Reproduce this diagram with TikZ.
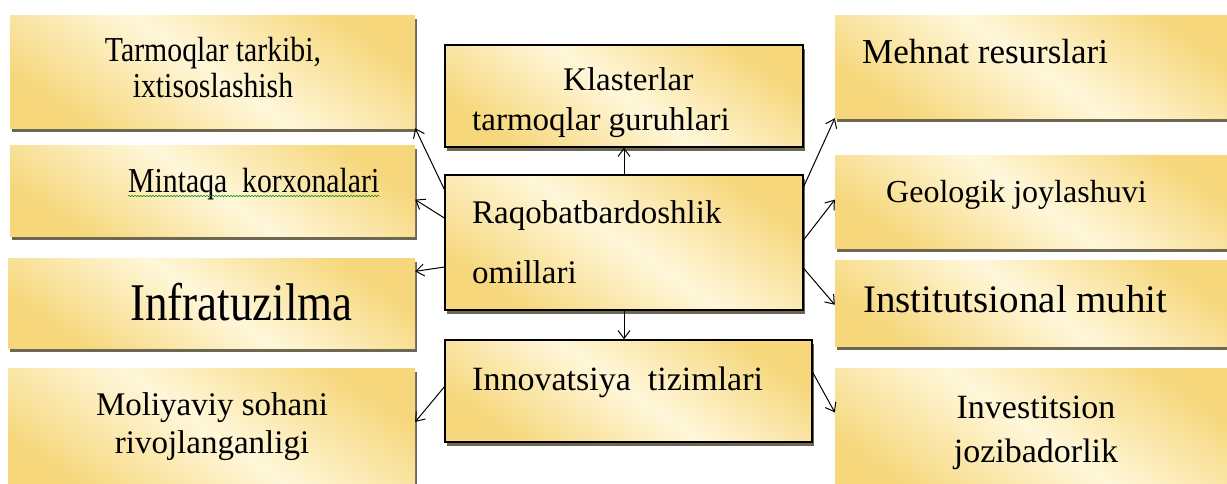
\documentclass[tikz,border=0pt]{standalone}
\usepackage{fontspec}
\setmainfont{Liberation Serif}
\newfontfamily\narrowfont{Liberation Serif}[FakeStretch=0.85]
\usetikzlibrary{arrows.meta,calc,shadows,decorations.pathmorphing}
\definecolor{boxgold}{HTML}{F6D77C}
\definecolor{boxcream}{HTML}{FFF7DA}
\definecolor{boxshade}{HTML}{4A4228}

\begin{document}
\begin{tikzpicture}[x=1pt,y=-1pt,
    factor/.style={rectangle, inner sep=0pt, top color=boxgold, bottom color=boxgold,
      middle color=boxcream, shading angle=-35,
      drop shadow={shadow xshift=2pt, shadow yshift=-4pt, fill=boxshade, opacity=0.8}},
    core/.style={factor, draw=black, line width=1.4pt},
    txt/.style={inner sep=0pt, text=black},
    link/.style={-{Straight Barb[length=8pt,width=12pt]}, line width=1pt}]
   \useasboundingbox (0,0) rectangle (1227,483);
   \node[factor, minimum width=405pt, minimum height=113pt] (tarmoq) at (212.5,71.5) {};
   \node[factor, minimum width=405pt, minimum height=91pt] (mintaqa) at (212.5,190.5) {};
   \node[factor, minimum width=407pt, minimum height=90pt] (infra) at (211.5,303) {};
   \node[factor, minimum width=407pt, minimum height=127pt] (moliya) at (211.5,431.5) {};
   \node[core, minimum width=358pt, minimum height=102pt] (klaster) at (624,96) {};
   \node[core, minimum width=358pt, minimum height=135pt] (raq) at (624,242.5) {};
   \node[core, minimum width=367pt, minimum height=102pt] (innov) at (628.5,391) {};
   \node[factor, minimum width=400pt, minimum height=103pt] (mehnat) at (1035,66.5) {};
   \node[factor, minimum width=400pt, minimum height=93pt] (geolog) at (1035,201.5) {};
   \node[factor, minimum width=400pt, minimum height=86pt] (instit) at (1035,303) {};
   \node[factor, minimum width=400pt, minimum height=127pt] (invest) at (1035,431.5) {};

   \node[txt, anchor=base, align=center, font=\narrowfont\fontsize{35}{36}\selectfont]
      (tarmoqT) at (213,97) {Tarmoqlar tarkibi,\\ixtisoslashish};
   \node[txt, anchor=base west, font=\narrowfont\fontsize{35}{36}\selectfont]
      (mintaqaT) at (128,192) {Mintaqa\ \ korxonalari};
   \node[txt, anchor=base west, font=\narrowfont\fontsize{53}{56}\selectfont]
      (infraT) at (130,320) {Infratuzilma};
   \node[txt, anchor=base, align=center, font=\fontsize{33}{38}\selectfont]
      (moliyaT) at (212,453) {Moliyaviy sohani\\rivojlanganligi};
   \node[txt, anchor=base west, align=left, font=\fontsize{33}{40}\selectfont]
      (klasterT) at (472,130) {\hspace*{91pt}Klasterlar\\tarmoqlar guruhlari};
   \node[txt, anchor=base west, align=left, font=\fontsize{33}{60}\selectfont]
      (raqT) at (472,283) {Raqobatbardoshlik\\omillari};
   \node[txt, anchor=base west, font=\fontsize{34}{38}\selectfont]
      (innovT) at (472,390) {Innovatsiya\ \ tizimlari};
   \node[txt, anchor=base west, font=\fontsize{35}{38}\selectfont]
      (mehnatT) at (862,63) {Mehnat resurslari};
   \node[txt, anchor=base west, font=\fontsize{32}{36}\selectfont]
      (geologT) at (886,202) {Geologik joylashuvi};
   \node[txt, anchor=base west, font=\fontsize{39}{42}\selectfont]
      (institT) at (863,312) {Institutsional muhit};
   \node[txt, anchor=base, align=center, font=\fontsize{34}{44}\selectfont]
      (investT) at (1036,462) {Investitsion\\jozibadorlik};

   \draw[green!55!black, line width=0.5pt, decorate,
      decoration={snake, amplitude=0.7pt, segment length=3pt}]
      ([yshift=-4pt]mintaqaT.base west) -- ([yshift=-4pt]mintaqaT.base east);

   \draw[link] ($(raq.north west)!0.11!(raq.south west)$) to (tarmoq.south east);
   \draw[link] ($(raq.north west)!0.32!(raq.south west)$) to ($(mintaqa.north east)!0.6!(mintaqa.south east)$);
   \draw[link] ($(raq.north west)!0.68!(raq.south west)$) to ($(infra.north east)!0.15!(infra.south east)$);
   \draw[link] (raq.north) to (klaster.south);
   \draw[link] (raq.south) to (raq.south |- innov.north);
   \draw[link] ($(raq.north east)!0.09!(raq.south east)$) to (mehnat.south west);
   \draw[link] ($(raq.north east)!0.48!(raq.south east)$) to ($(geolog.north west)!0.48!(geolog.south west)$);
   \draw[link] ($(raq.north east)!0.69!(raq.south east)$) to ($(instit.north west)!0.52!(instit.south west)$);
   \draw[link] ($(innov.north west)!0.46!(innov.south west)$) to ($(moliya.north east)!0.425!(moliya.south east)$);
   \draw[link] ($(innov.north east)!0.32!(innov.south east)$) to ($(invest.north west)!0.35!(invest.south west)$);
\end{tikzpicture}
\end{document}
